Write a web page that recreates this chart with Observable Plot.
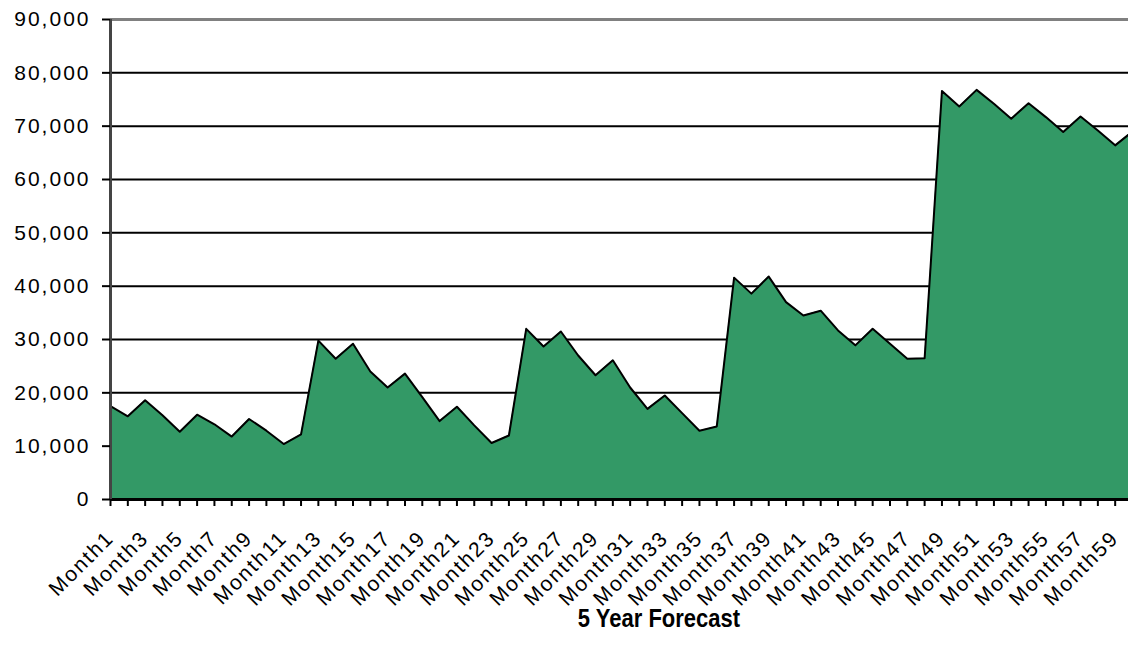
<!DOCTYPE html>
<html>
<head>
<meta charset="utf-8">
<script src="https://cdn.jsdelivr.net/npm/d3@7"></script>
<script src="https://cdn.jsdelivr.net/npm/@observablehq/plot@0.6"></script>
<style>
  html, body { margin: 0; padding: 0; background: #fff; overflow: hidden; width: 1128px; height: 646px; }
  #wrap { position: relative; width: 1128px; height: 646px; }
  #title { position: absolute; left: 459px; width: 400px; top: 606px; height: 34px; line-height: 34px;
           text-align: center; font: bold 22px "Liberation Sans", Arial, sans-serif; color: #000;
           transform: scaleY(1.2); transform-origin: 50% 50%; }
</style>
</head>
<body>
<div id="wrap"><div id="chart"></div><div id="title">5 Year Forecast</div></div>
<script>
const months = ["Month1","Month2","Month3","Month4","Month5","Month6","Month7","Month8","Month9","Month10",
  "Month11","Month12","Month13","Month14","Month15","Month16","Month17","Month18","Month19","Month20",
  "Month21","Month22","Month23","Month24","Month25","Month26","Month27","Month28","Month29","Month30",
  "Month31","Month32","Month33","Month34","Month35","Month36","Month37","Month38","Month39","Month40",
  "Month41","Month42","Month43","Month44","Month45","Month46","Month47","Month48","Month49","Month50",
  "Month51","Month52","Month53","Month54","Month55","Month56","Month57","Month58","Month59","Month60"];

const forecast = [17500,15600,18600,15800,12700,15900,14100,11800,15100,12900,
  10400,12200,29800,26400,29200,24000,21000,23600,19200,14700,
  17400,13900,10600,12000,32000,28700,31500,27000,23300,26100,
  21000,17000,19500,16200,12900,13700,41600,38600,41800,37000,
  34500,35400,31700,28900,32000,29200,26400,26500,76600,73700,
  76800,74200,71400,74300,71700,68900,71800,69200,66400,69000];

const xTickLabels = ["Month1","Month3","Month5","Month7","Month9","Month11","Month13","Month15","Month17","Month19",
  "Month21","Month23","Month25","Month27","Month29","Month31","Month33","Month35","Month37","Month39",
  "Month41","Month43","Month45","Month47","Month49","Month51","Month53","Month55","Month57","Month59"];

const yTicks = [0,10000,20000,30000,40000,50000,60000,70000,80000,90000];
const gridTicks = [10000,20000,30000,40000,50000,60000,70000,80000];

const data = months.map((m, i) => ({month: m, value: forecast[i]}));

const chart = Plot.plot({
  width: 1128,
  height: 612,
  marginLeft: 110,
  marginRight: 0,
  marginTop: 19,
  marginBottom: 113,
  style: {fontFamily: '"Liberation Sans", Arial, sans-serif', letterSpacing: "2px", color: "#000", background: "#fff"},
  x: {type: "point", domain: months, range: [110, 1132], padding: 0, align: 0.5, round: false, label: null},
  y: {domain: [0, 90000], label: null},
  marks: [
    Plot.ruleY(gridTicks, {stroke: "#000", strokeWidth: 2}),
    Plot.ruleY([90000], {stroke: "#808080", strokeWidth: 3}),
    Plot.areaY(data, {x: "month", y: "value", fill: "#339966"}),
    Plot.lineY(data, {x: "month", y: "value", stroke: "#000", strokeWidth: 2}),
    Plot.ruleY([0], {stroke: "#000", strokeWidth: 3}),
    Plot.ruleX(["Month1"], {y1: 0, y2: 90000, stroke: "#444", strokeWidth: 3}),
    Plot.axisX(months, {tickSize: 7, fill: "none", stroke: "#000", strokeWidth: 2, label: null}),
    Plot.axisX(xTickLabels, {tickSize: 0, tickPadding: 35, dx: 0, tickRotate: -45, fontSize: 21, fill: "#000", label: null}),
    Plot.axisY(yTicks, {tickSize: 8, tickPadding: 12, fontSize: 21, fill: "#000", stroke: "#000", strokeWidth: 2,
      tickFormat: d3.format(","), label: null})
  ]
});
document.getElementById("chart").appendChild(chart);
</script>
</body>
</html>
